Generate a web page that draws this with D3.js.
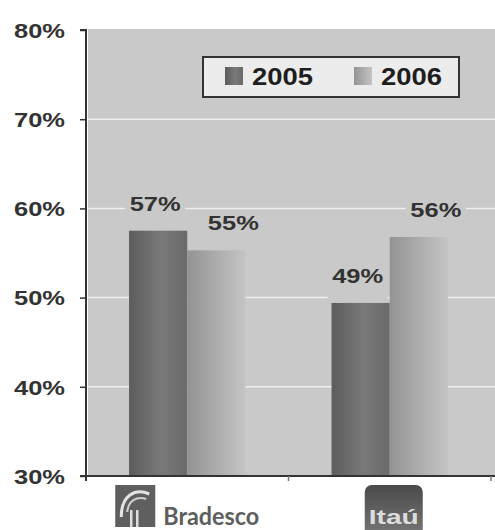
<!DOCTYPE html>
<html>
<head>
<meta charset="utf-8">
<script src="https://cdn.jsdelivr.net/npm/d3@7/dist/d3.min.js"></script>
<style>
  html, body { margin: 0; padding: 0; background: #ffffff; }
  svg { display: block; }
</style>
</head>
<body>
<div id="chart"></div>
<script>
// ---- data ----
const categories = ["Bradesco", "Itaú"];
const years = ["2005", "2006"];
const values2005 = [57.5, 49.4];
const values2006 = [55.3, 56.8];
const labels2005 = ["57%", "49%"];
const labels2006 = ["55%", "56%"];
const yTicks = [30, 40, 50, 60, 70, 80];
const yTickLabels = ["30%", "40%", "50%", "60%", "70%", "80%"];

const W = 495, H = 530;
const margin = { left: 86, top: 30, bottom: 476, right: 491 };

const svg = d3.select("#chart").append("svg")
  .attr("width", W).attr("height", H);

const defs = svg.append("defs");
const g05 = defs.append("linearGradient").attr("id", "g2005").attr("x1", 0).attr("x2", 1).attr("y1", 0).attr("y2", 0);
g05.append("stop").attr("offset", 0).attr("stop-color", "#5c5c5c");
g05.append("stop").attr("offset", 0.55).attr("stop-color", "#797979");
g05.append("stop").attr("offset", 1).attr("stop-color", "#6a6a6a");
const g06 = defs.append("linearGradient").attr("id", "g2006").attr("x1", 0).attr("x2", 1).attr("y1", 0).attr("y2", 0);
g06.append("stop").attr("offset", 0).attr("stop-color", "#939393");
g06.append("stop").attr("offset", 0.7).attr("stop-color", "#b6b6b6");
g06.append("stop").attr("offset", 1).attr("stop-color", "#c4c4c4");
const gItau = defs.append("linearGradient").attr("id", "gItau").attr("x1", 0).attr("x2", 0).attr("y1", 0).attr("y2", 1);
gItau.append("stop").attr("offset", 0).attr("stop-color", "#4a4a4a");
gItau.append("stop").attr("offset", 1).attr("stop-color", "#7a7a7a");

const fontFam = "'Liberation Sans', Arial, sans-serif";
const textCol = "#333333";
const plotBg = "#c9c9c9";

// scales
const y = d3.scaleLinear().domain([30, 80]).range([margin.bottom, margin.top]);
const x0 = d3.scaleBand().domain(categories).range([margin.left, margin.right]).paddingInner(0).paddingOuter(0);
const x1 = d3.scaleBand().domain(years).range([0, x0.bandwidth()]).paddingInner(0).paddingOuter(0.74);
const color = d3.scaleOrdinal().domain(years).range(["url(#g2005)", "url(#g2006)"]);

// plot background
svg.append("rect")
  .attr("x", margin.left + 2).attr("y", y(80) - 1)
  .attr("width", W - margin.left - 2).attr("height", y(30) - y(80) + 1)
  .attr("fill", plotBg);

// gridlines
svg.append("g").selectAll("line")
  .data(yTicks.filter(d => d > 30 && d < 80))
  .join("line")
  .attr("x1", margin.left + 2).attr("x2", W)
  .attr("y1", d => y(d)).attr("y2", d => y(d))
  .attr("stroke", "#efefef").attr("stroke-width", 1.5);

// bars
const rows = categories.map((c, i) => ({
  cat: c,
  items: [
    { year: "2005", value: values2005[i], label: labels2005[i] },
    { year: "2006", value: values2006[i], label: labels2006[i] }
  ]
}));

const groups = svg.append("g").selectAll("g")
  .data(rows).join("g")
  .attr("transform", d => `translate(${x0(d.cat)},0)`);

groups.selectAll("rect")
  .data(d => d.items).join("rect")
  .attr("x", d => x1(d.year))
  .attr("y", d => y(d.value))
  .attr("width", x1.bandwidth())
  .attr("height", d => y(30) - y(d.value))
  .attr("fill", d => color(d.year));

// data labels
const labelDx = { "2005": -3, "2006": 17 };
const lblG = groups.selectAll("g.lbl")
  .data(d => d.items).join("g").attr("class", "lbl");
lblG.append("rect")
  .attr("x", d => x1(d.year) + x1.bandwidth() / 2 + labelDx[d.year] - 30)
  .attr("y", d => y(d.value) - 38)
  .attr("width", 60)
  .attr("height", 36)
  .attr("fill", plotBg);
lblG.append("text")
  .attr("x", d => x1(d.year) + x1.bandwidth() / 2 + labelDx[d.year])
  .attr("y", d => y(d.value) - 20)
  .attr("text-anchor", "middle")
  .attr("font-family", fontFam).attr("font-weight", "bold")
  .attr("font-size", 20).attr("fill", textCol)
  .attr("textLength", 51).attr("lengthAdjust", "spacingAndGlyphs")
  .text(d => d.label);

// y axis
const yAxis = d3.axisLeft(y).tickValues(yTicks)
  .tickFormat((d, i) => yTickLabels[i]).tickSize(6).tickPadding(15);
const yg = svg.append("g").attr("transform", `translate(${margin.left},0)`).call(yAxis);
yg.select(".domain").attr("stroke", "#333").attr("stroke-width", 2).attr("d", `M-6,${y(80)}H0V${y(30)}H-6`);
yg.selectAll(".tick line").attr("stroke", "#333").attr("stroke-width", 1.5);
yg.selectAll(".tick text")
  .attr("font-family", fontFam).attr("font-weight", "bold")
  .attr("font-size", 20).attr("fill", textCol)
  .attr("dy", "0.36em")
  .attr("textLength", 51).attr("lengthAdjust", "spacingAndGlyphs");

// x axis line and boundary ticks
const xg = svg.append("g");
xg.append("line")
  .attr("x1", margin.left - 6).attr("x2", W)
  .attr("y1", y(30)).attr("y2", y(30))
  .attr("stroke", "#333").attr("stroke-width", 2);
xg.selectAll("line.bt")
  .data(categories.map(c => x0(c) + x0.bandwidth()))
  .join("line").attr("class", "bt")
  .attr("x1", d => d).attr("x2", d => d)
  .attr("y1", y(30)).attr("y2", y(30) + 5)
  .attr("stroke", "#777").attr("stroke-width", 1.5);
xg.append("line")
  .attr("x1", margin.left).attr("x2", margin.left)
  .attr("y1", y(30)).attr("y2", y(30) + 5)
  .attr("stroke", "#333").attr("stroke-width", 2);

// category labels (logos)
const bc = x0("Bradesco") + x0.bandwidth() / 2;
const bLogo = svg.append("g").attr("transform", `translate(${bc},0)`);
bLogo.append("rect").attr("x", -72).attr("y", 485).attr("width", 40).attr("height", 42).attr("fill", "#5f5f5f");
bLogo.append("path")
  .attr("d", "M-66,517 C-66,495 -52,488 -38,494")
  .attr("fill", "none").attr("stroke", "#e4e4e4").attr("stroke-width", 3);
bLogo.append("path")
  .attr("d", "M-60,512 C-59,500 -50,496 -41,499")
  .attr("fill", "none").attr("stroke", "#d0d0d0").attr("stroke-width", 2);
bLogo.append("path")
  .attr("d", "M-56,527 V510 M-50,527 V510")
  .attr("fill", "none").attr("stroke", "#dedede").attr("stroke-width", 2.5);
bLogo.append("text")
  .attr("x", -24).attr("y", 525)
  .attr("font-family", "Lato, 'Open Sans', sans-serif").attr("font-weight", "bold")
  .attr("font-size", 25).attr("fill", "#5e5e5e")
  .attr("textLength", 96).attr("lengthAdjust", "spacingAndGlyphs")
  .text("Bradesco");

const ic = x0("Itaú") + x0.bandwidth() / 2;
const iLogo = svg.append("g").attr("transform", `translate(${ic},0)`);
iLogo.append("rect").attr("x", -25).attr("y", 485).attr("width", 58).attr("height", 55).attr("rx", 7).attr("fill", "url(#gItau)");
iLogo.append("text")
  .attr("x", 4).attr("y", 524)
  .attr("text-anchor", "middle")
  .attr("font-family", fontFam).attr("font-weight", "bold")
  .attr("font-size", 21).attr("fill", "#dcdcdc")
  .attr("textLength", 50).attr("lengthAdjust", "spacingAndGlyphs")
  .text("Itaú");

// legend
const leg = svg.append("g");
leg.append("rect").attr("x", 203).attr("y", 57).attr("width", 256).attr("height", 40)
  .attr("fill", "#ececec").attr("stroke", "#333").attr("stroke-width", 2);
const legX = { "2005": 225, "2006": 354 };
const legItems = leg.selectAll("g.li").data(years).join("g").attr("class", "li");
legItems.append("rect")
  .attr("x", d => legX[d]).attr("y", 67).attr("width", 18).attr("height", 18)
  .attr("fill", d => color(d));
legItems.append("text")
  .attr("x", d => legX[d] + 27).attr("y", 85)
  .attr("font-family", fontFam).attr("font-weight", "bold")
  .attr("font-size", 23).attr("fill", "#1e1e1e")
  .attr("textLength", 61).attr("lengthAdjust", "spacingAndGlyphs")
  .text(d => d);
</script>
</body>
</html>
